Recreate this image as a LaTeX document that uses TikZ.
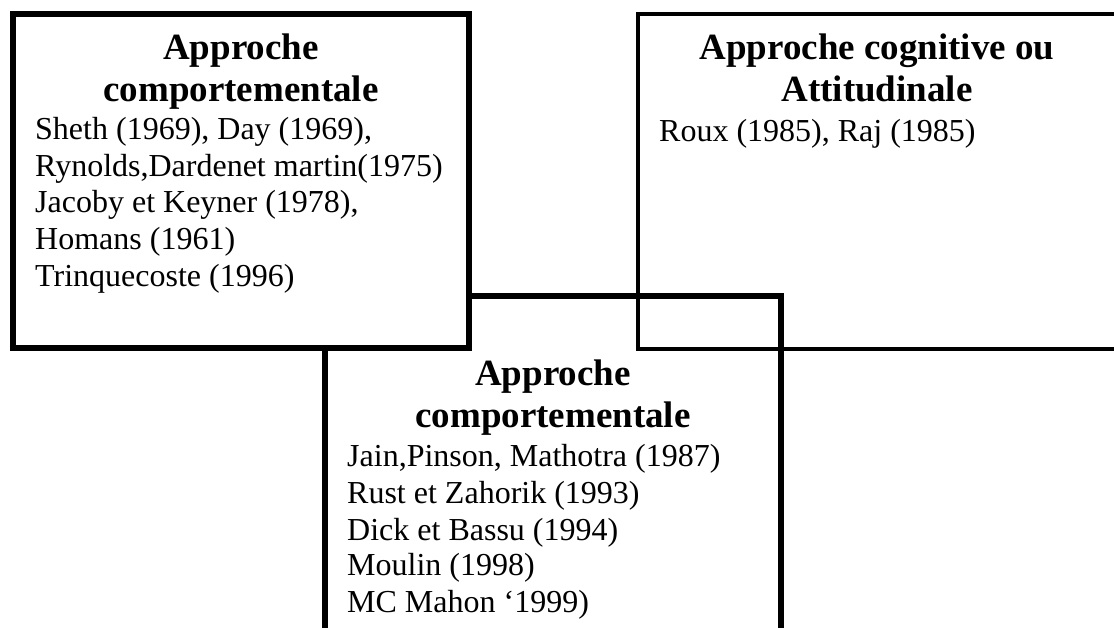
\documentclass[tikz,border=0pt]{standalone}
\usepackage{fontspec}
\setmainfont{Liberation Serif}
\begin{document}
\begin{tikzpicture}[x=1pt,y=-1pt,
  heavyframe/.style={line width=6pt},
  lightframe/.style={line width=4pt},
  boxtitle/.style={font=\fontsize{37}{42}\selectfont\bfseries, anchor=base, inner sep=0pt},
  boxline/.style={font=\fontsize{32}{37}\selectfont, anchor=base west, inner sep=0pt}]
  \useasboundingbox (0,0) rectangle (1114,628);
  \clip (0,0) rectangle (1114,628);

  % lower box, partly hidden by the upper-left box
  \draw[heavyframe] (325,296) rectangle (781,720);
  % upper-left box, filled so it covers the lower box
  \draw[heavyframe, fill=white] (13,14) rectangle (469,348);
  % upper-right box, open over the lower box
  \draw[lightframe] (638,14) rectangle (1116,349);

  % upper-left box text
  \node[boxtitle] (t1a) at (241,60) {Approche};
  \node[boxtitle] (t1b) at (241,102) {comportementale};
  \node[boxline] (l1a) at (35,140) {Sheth (1969), Day (1969),};
  \node[boxline] (l1b) at (35,177) {Rynolds,Dardenet martin(1975)};
  \node[boxline] (l1c) at (35,213) {Jacoby et Keyner (1978),};
  \node[boxline] (l1d) at (35,250) {Homans (1961)};
  \node[boxline] (l1e) at (35,287) {Trinquecoste (1996)};

  % upper-right box text
  \node[boxtitle] (t3a) at (877,60) {Approche cognitive ou};
  \node[boxtitle] (t3b) at (877,102) {Attitudinale};
  \node[boxline] (l3a) at (659,142) {Roux (1985), Raj (1985)};

  % lower box text
  \node[boxtitle] (t2a) at (553,385) {Approche};
  \node[boxtitle] (t2b) at (553,427) {comportementale};
  \node[boxline] (l2a) at (347,466) {Jain,Pinson, Mathotra (1987)};
  \node[boxline] (l2b) at (347,503) {Rust et Zahorik (1993)};
  \node[boxline] (l2c) at (347,540) {Dick et Bassu (1994)};
  \node[boxline] (l2d) at (347,575) {Moulin (1998)};
  \node[boxline] (l2e) at (347,612) {MC Mahon ‘1999)};
\end{tikzpicture}
\end{document}
